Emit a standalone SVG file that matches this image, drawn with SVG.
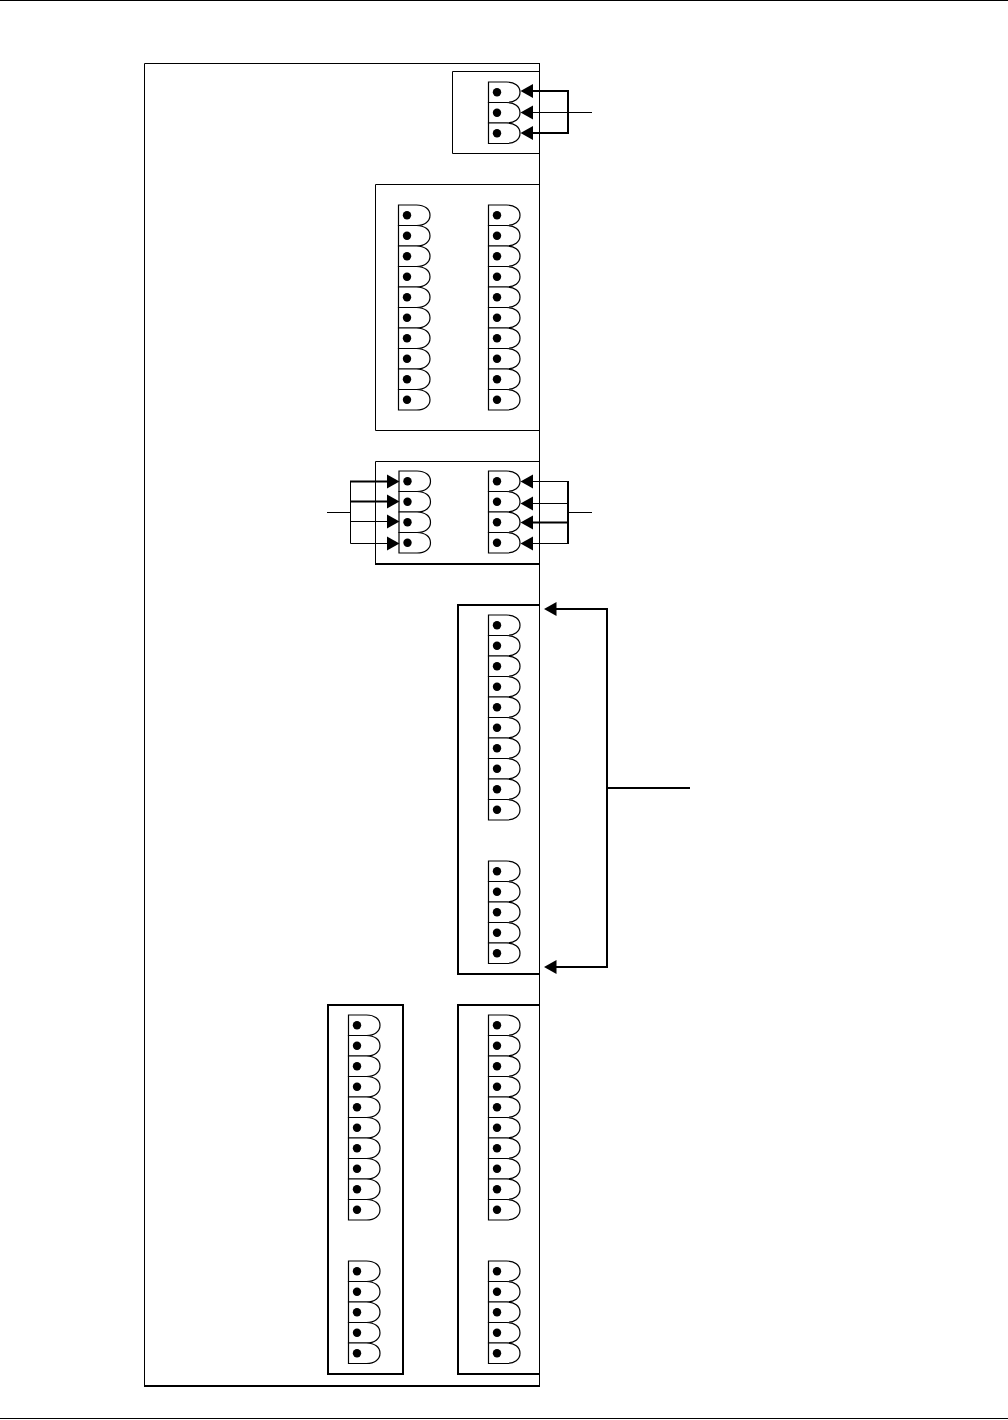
<svg xmlns="http://www.w3.org/2000/svg" width="1008" height="1420" viewBox="0 0 1008 1420">
<style>
.box{fill:none;stroke:#000;stroke-width:1}
.thick{fill:none;stroke:#000;stroke-width:2}
.t{fill:#fff;stroke:#000;stroke-width:1.2}
.d{fill:#000}
.c1{fill:none;stroke:#000;stroke-width:1}
.c2{fill:none;stroke:#000;stroke-width:2}
.a{fill:#000;stroke:none}
</style>
<defs>
<g id="term"><path class="t" d="M0,0H18C26,0 31.500,4 31.500,10.250C31.500,16.500 26,20.500 18,20.500H0Z"/><circle class="d" cx="8.500" cy="10.250" r="4.200"/></g>
<g id="t4"><use href="#term" y="0"/><use href="#term" y="20.500"/><use href="#term" y="41"/><use href="#term" y="61.500"/></g>
<g id="t5"><use href="#t4"/><use href="#term" y="82"/></g>
<g id="t10"><use href="#t5"/><use href="#t5" y="102.500"/></g>
<path id="al" class="a" d="M0,0L12.500,-7V7Z"/>
<path id="ar" class="a" d="M0,0L-12.500,-7V7Z"/>
</defs>
<rect width="1008" height="1420" fill="#fff"/>
<g id="page-rules"><path class="c1" d="M0,0.500H1008M0,1418.500H1008"/></g>
<g id="enclosure"><path class="box" d="M540,63.500H144.500V1386"/><path class="thick" d="M144,1386H540"/><path class="box" d="M539.500,63V1386"/></g>
<g id="module-1">
<path class="box" d="M539.500,71.500H452.500V153.500H539.500"/>
<use href="#term" x="488.500" y="82"/><use href="#term" x="488.500" y="102.500"/><use href="#term" x="488.500" y="123"/>
</g>
<g id="module-2">
<path class="box" d="M539.500,184.500H375.500V430.500H539.500"/>
<use href="#t10" x="398.500" y="205"/><use href="#t10" x="488.500" y="205"/>
</g>
<g id="module-3">
<path class="box" d="M539.500,461.500H375.500V564"/><path class="thick" d="M375,564H539.500"/>
<use href="#t4" x="399" y="471"/><use href="#t4" x="488.500" y="471"/>
</g>
<g id="module-4">
<path class="thick" d="M539.500,605H458V974H539.500"/>
<use href="#t10" x="488.500" y="615"/><use href="#t5" x="488.500" y="861"/>
</g>
<g id="module-5">
<rect class="thick" x="328" y="1005" width="75" height="369"/>
<use href="#t10" x="348.500" y="1015"/><use href="#t5" x="348.500" y="1261"/>
</g>
<g id="module-6">
<path class="thick" d="M539.500,1005H458V1374H539.500"/>
<use href="#t10" x="488.500" y="1015"/><use href="#t5" x="488.500" y="1261"/>
</g>
<g id="connectors">
<path class="c2" d="M530,91H568V133H530"/>
<path class="c1" d="M530,112.500H592"/>
<use href="#al" x="520.500" y="91"/><use href="#al" x="520.500" y="112.500"/><use href="#al" x="520.500" y="133"/>
<path class="c1" d="M327,512.500H350.500M350.500,481V543.500H390M350.500,521.500H390"/>
<path class="c2" d="M350,481.500H390M350,501.500H390"/>
<use href="#ar" x="399.500" y="481.500"/><use href="#ar" x="399.500" y="501.500"/><use href="#ar" x="399.500" y="521.500"/><use href="#ar" x="399.500" y="543.500"/>
<path class="c1" d="M568,512.500H592M530,481.500H568M530,503.500H568M530,543.500H568"/>
<path class="c2" d="M568,481V544M530,522.500H568"/>
<use href="#al" x="520.500" y="481.500"/><use href="#al" x="520.500" y="503.500"/><use href="#al" x="520.500" y="522.500"/><use href="#al" x="520.500" y="543.500"/>
<path class="c2" d="M553,609H607V967H553M607,788H690"/>
<use href="#al" x="544" y="609"/><use href="#al" x="544" y="967"/>
</g>
</svg>
